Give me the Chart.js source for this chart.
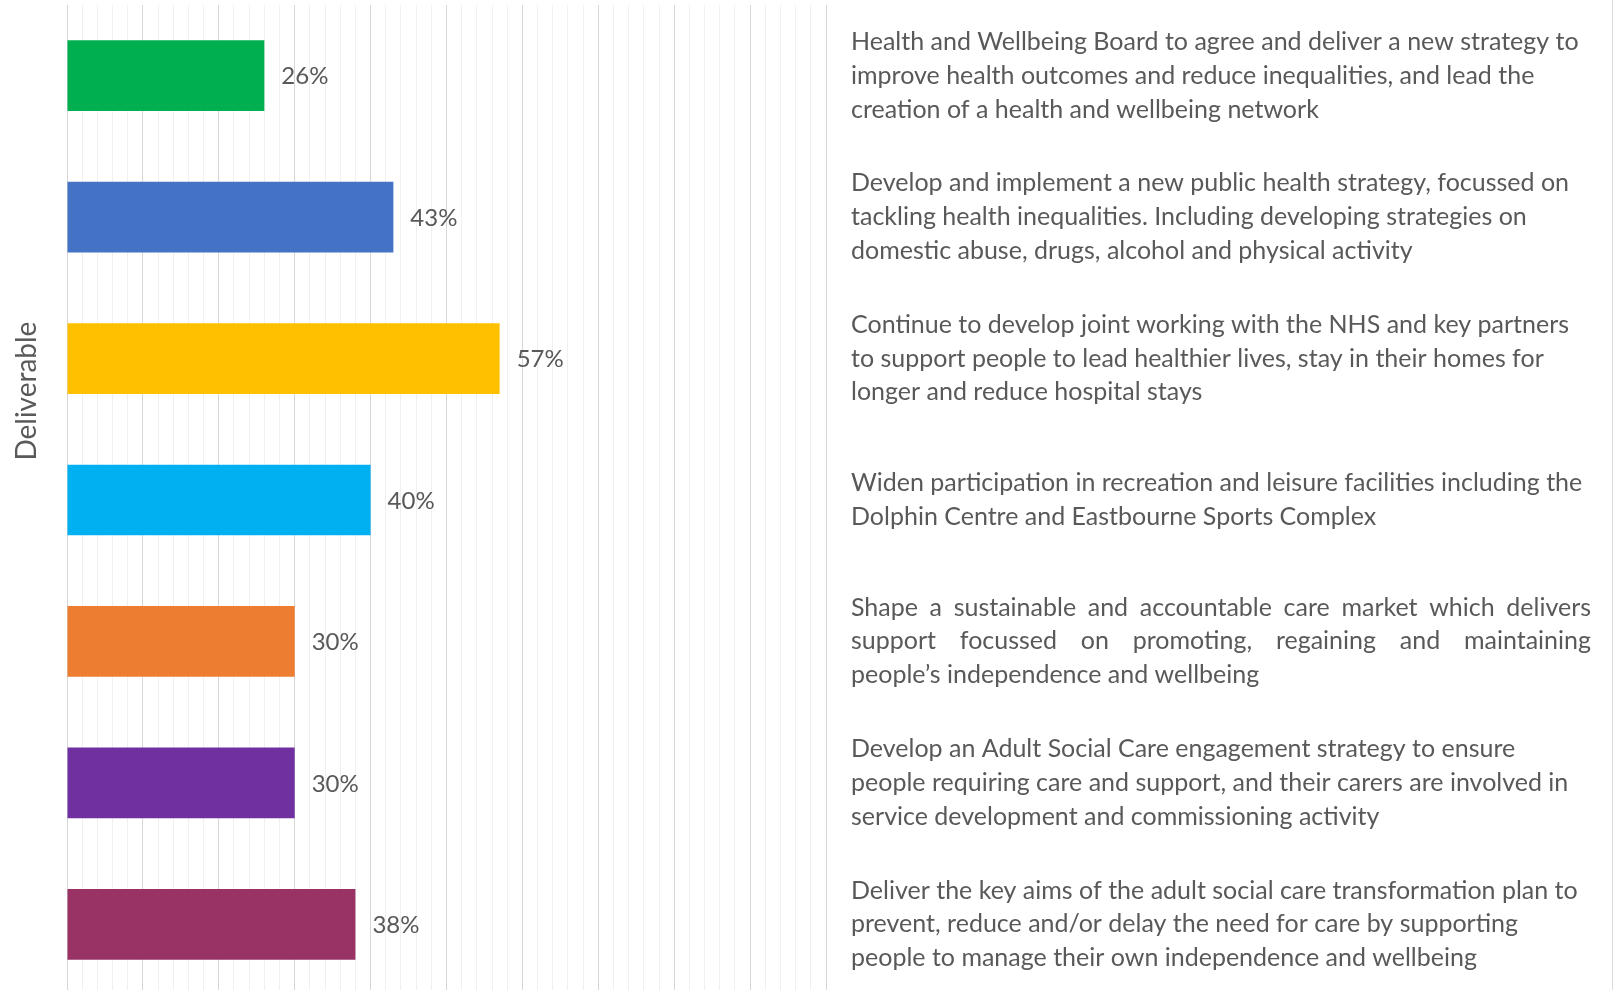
<!DOCTYPE html>
<html>
<head>
<meta charset="utf-8">
<title>Deliverables progress</title>
<script src="https://cdn.jsdelivr.net/npm/chart.js@4.4.0/dist/chart.umd.min.js"></script>
<style>
  html, body { margin: 0; padding: 0; background: #fff; overflow: hidden; }
</style>
</head>
<body>
<canvas id="barChart" width="1624" height="995"></canvas>
<script>
// progress against each deliverable, top to bottom
const percentComplete = [26, 43, 57, 40, 30, 30, 38];
const barColours = ['#00B050', '#4472C4', '#FFC000', '#00B0F0', '#ED7D31', '#7030A0', '#993366'];

// description text, already split into lines
const descriptionLines = [
    ['Health and Wellbeing Board to agree and deliver a new strategy to',
     'improve health outcomes and reduce inequalities, and lead the',
     'creation of a health and wellbeing network'],
    ['Develop and implement a new public health strategy, focussed on',
     'tackling health inequalities. Including developing strategies on',
     'domestic abuse, drugs, alcohol and physical activity'],
    ['Continue to develop joint working with the NHS and key partners',
     'to support people to lead healthier lives, stay in their homes for',
     'longer and reduce hospital stays'],
    ['Widen participation in recreation and leisure facilities including the',
     'Dolphin Centre and Eastbourne Sports Complex'],
    ['Shape a sustainable and accountable care market which delivers',
     'support focussed on promoting, regaining and maintaining',
     'people\u2019s independence and wellbeing'],
    ['Develop an Adult Social Care engagement strategy to ensure',
     'people requiring care and support, and their carers are involved in',
     'service development and commissioning activity'],
    ['Deliver the key aims of the adult social care transformation plan to',
     'prevent, reduce and/or delay the need for care by supporting',
     'people to manage their own independence and wellbeing']
];
// paragraphs set as justified text
const justifiedRows = [false, false, false, false, true, false, false];

const axisTitle = 'Deliverable';

const TEXT_COLOUR = '#595959';
const FONT = 'Lato, "Open Sans", sans-serif';

// value labels to the right of each bar
const valueLabels = {
    id: 'valueLabels',
    afterDatasetsDraw(chart) {
        const ctx = chart.ctx;
        const meta = chart.getDatasetMeta(0);
        ctx.save();
        ctx.font = '24px ' + FONT;
        ctx.fillStyle = TEXT_COLOUR;
        ctx.textAlign = 'left';
        ctx.textBaseline = 'middle';
        meta.data.forEach((bar, i) => {
            ctx.fillText(percentComplete[i] + '%', bar.x + 17, bar.y + 1);
        });
        ctx.restore();
    }
};

// deliverable descriptions in the panel beside the plot
const descriptions = {
    id: 'descriptions',
    afterDraw(chart) {
        const ctx = chart.ctx;
        const area = chart.chartArea;
        const yScale = chart.scales.y;
        const left = area.right + 25;
        const right = chart.width - 33;
        const lineHeight = 33.8;
        ctx.save();
        ctx.font = '25px ' + FONT;
        ctx.fillStyle = TEXT_COLOUR;
        ctx.textBaseline = 'middle';
        ctx.textAlign = 'left';
        descriptionLines.forEach((lines, i) => {
            const cy = yScale.getPixelForValue(i);
            lines.forEach((line, j) => {
                const y = cy + (j - (lines.length - 1) / 2) * lineHeight;
                if (justifiedRows[i] && j < lines.length - 1) {
                    const words = line.split(' ');
                    const wordsWidth = words.reduce((s, w) => s + ctx.measureText(w).width, 0);
                    const gap = (right - left - wordsWidth) / (words.length - 1);
                    let x = left;
                    words.forEach(w => {
                        ctx.fillText(w, x, y);
                        x += ctx.measureText(w).width + gap;
                    });
                } else {
                    ctx.fillText(line, left, y);
                }
            });
        });

        // rotated axis title
        ctx.translate(27, area.top + (area.bottom - area.top) * 0.39);
        ctx.rotate(-Math.PI / 2);
        ctx.textAlign = 'center';
        ctx.font = '28px ' + FONT;
        ctx.fillText(axisTitle, 0, 0);
        ctx.restore();

        // frame edge on the right
        ctx.save();
        ctx.strokeStyle = '#dcdcdc';
        ctx.lineWidth = 1;
        ctx.beginPath();
        ctx.moveTo(chart.width - 11.5, 0);
        ctx.lineTo(chart.width - 11.5, chart.height);
        ctx.stroke();
        ctx.restore();
    }
};

const ctx = document.getElementById('barChart').getContext('2d');
const barChart = new Chart(ctx, {
    type: 'bar',
    data: {
        labels: descriptionLines.map(l => l.join(' ')),
        datasets: [{
            label: 'Progress',
            data: percentComplete,
            backgroundColor: barColours,
            borderWidth: 0,
            barPercentage: 0.5,
            categoryPercentage: 1
        }]
    },
    options: {
        indexAxis: 'y',
        responsive: false,
        animation: false,
        layout: {
            padding: { left: 67, right: 798, top: 5, bottom: 0 }
        },
        scales: {
            x: {
                min: 0,
                max: 100,
                ticks: { display: false, stepSize: 2, padding: 0 },
                grid: {
                    drawTicks: false,
                    tickLength: 0,
                    color: c => (c.tick && c.tick.value % 10 === 0) ? '#d6d6d6' : '#f0f0f0'
                },
                border: { display: false }
            },
            y: {
                display: false
            }
        },
        plugins: {
            legend: { display: false },
            tooltip: { enabled: false }
        }
    },
    plugins: [valueLabels, descriptions]
});
</script>
</body>
</html>
